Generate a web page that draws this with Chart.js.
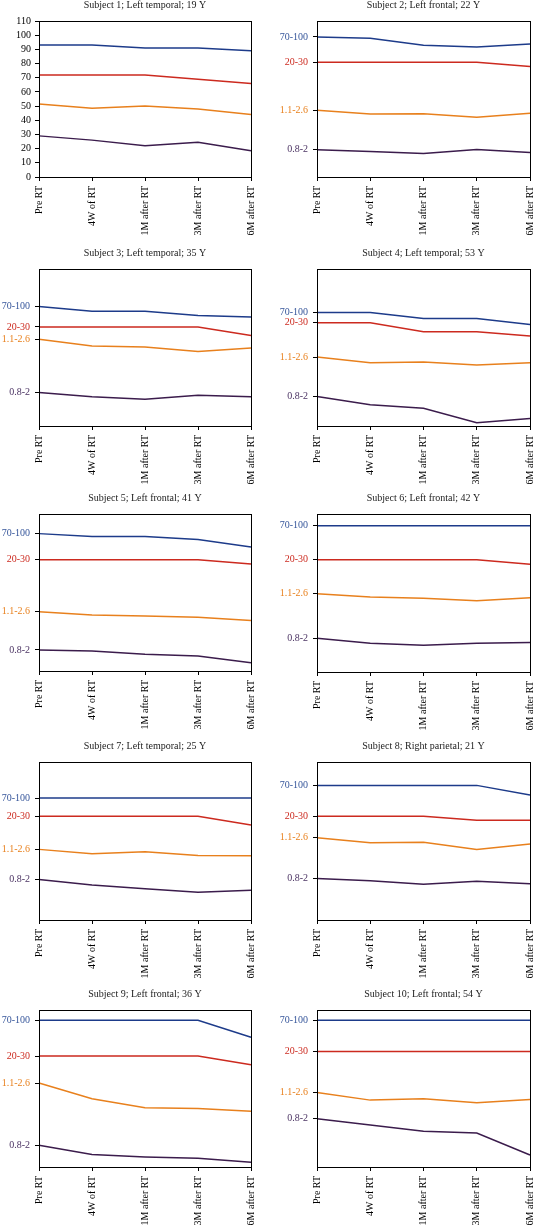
<!DOCTYPE html>
<html>
<head>
<meta charset="utf-8">
<script src="https://cdn.jsdelivr.net/npm/chart.js@4.4.1/dist/chart.umd.min.js"></script>
<style>
  html, body { margin: 0; padding: 0; background: #fff; overflow: hidden; }
  body { width: 536px; height: 1228px; position: relative; }
  canvas { position: absolute; }
</style>
</head>
<body>
<script>
// data
const timepoints = ['Pre RT', '4W of RT', '1M after RT', '3M after RT', '6M after RT']
const subjects = [
  'Subject 1; Left temporal; 19 Y', 'Subject 2; Left frontal; 22 Y',
  'Subject 3; Left temporal; 35 Y', 'Subject 4; Left temporal; 53 Y',
  'Subject 5; Left frontal; 41 Y', 'Subject 6; Left frontal; 42 Y',
  'Subject 7; Left temporal; 25 Y', 'Subject 8; Right parietal; 21 Y',
  'Subject 9; Left frontal; 36 Y', 'Subject 10; Left frontal; 54 Y',
]
const rangeLabels = ['70-100', '20-30', '1.1-2.6', '0.8-2']
// where each normal range label sits on the subject's axis (subject 1 has a numeric axis)
const rangeLevels = [
  null,
  [89.8, 73.6, 42.8, 17.4],
  [76.1, 63.1, 55.2, 21.3],
  [72.3, 65.7, 43.9, 18.8],
  [87.5, 70.9, 37.8, 13.4],
  [92.6, 71.0, 49.6, 21.4],
  [77.2, 65.6, 44.7, 25.7],
  [85.2, 65.6, 52.1, 26.2],
  [93.4, 70.7, 53.5, 13.8],
  [93.4, 73.5, 47.5, 30.7],
]
const blueLine = [
  [93, 93, 91, 91, 89],
  [89.8, 89.0, 84.5, 83.4, 85.3],
  [76.1, 73.1, 73.1, 70.4, 69.5],
  [72.3, 72.3, 68.4, 68.4, 64.6],
  [87.5, 85.6, 85.6, 83.7, 79.0],
  [92.6, 92.6, 92.6, 92.6, 92.6],
  [77.2, 77.2, 77.2, 77.2, 77.2],
  [85.2, 85.2, 85.2, 85.2, 79.1],
  [93.4, 93.4, 93.4, 93.4, 82.6],
  [93.4, 93.4, 93.4, 93.4, 93.4],
]
const redLine = [
  [72, 72, 72, 69, 66],
  [73.6, 73.6, 73.6, 73.6, 70.8],
  [63.1, 63.1, 63.1, 63.1, 57.6],
  [65.7, 65.7, 60.1, 60.1, 57.4],
  [70.9, 70.9, 70.9, 70.9, 68.2],
  [71.0, 71.0, 71.0, 71.0, 68.2],
  [65.6, 65.6, 65.6, 65.6, 60.1],
  [65.6, 65.6, 65.6, 63.1, 63.1],
  [70.7, 70.7, 70.7, 70.7, 65.2],
  [73.5, 73.5, 73.5, 73.5, 73.5],
]
const orangeLine = [
  [51.5, 48.5, 50, 48, 44],
  [42.8, 40.4, 40.6, 38.3, 40.9],
  [55.2, 51.0, 50.3, 47.5, 49.7],
  [43.9, 40.3, 40.7, 38.8, 40.3],
  [37.8, 35.7, 35.0, 34.2, 32.1],
  [49.6, 47.5, 46.6, 45.1, 47.0],
  [44.7, 42.0, 43.2, 40.9, 40.7],
  [52.1, 48.9, 49.2, 44.7, 48.1],
  [53.5, 43.5, 37.8, 37.2, 35.5],
  [47.5, 42.6, 43.4, 40.9, 43.0],
]
const purpleLine = [
  [29, 26, 22, 24.5, 18.5],
  [17.4, 16.3, 15.1, 17.6, 15.7],
  [21.3, 18.6, 17.1, 19.6, 18.6],
  [18.8, 13.6, 11.3, 2.1, 4.7],
  [13.4, 12.7, 10.6, 9.6, 5.3],
  [21.4, 18.2, 16.9, 18.2, 18.6],
  [25.7, 22.2, 19.8, 17.5, 18.8],
  [26.2, 24.9, 22.6, 24.5, 23.0],
  [13.8, 7.9, 6.4, 5.5, 3.0],
  [30.7, 26.7, 22.7, 21.6, 7.6],
]

// styles
const lineColors = ['#1d3b8a', '#cc2a1f', '#e8801d', '#3b1c4c']
const labelColors = ['#35559a', '#cc2a1f', '#e8801d', '#4a3262']
const fontFamily = "'Liberation Serif', 'DejaVu Serif', serif"

// plot area of each panel: left, top, width, height
const plotBoxes = [
  [39, 21, 217, 156], [317, 21, 218, 156],
  [39, 269, 217, 157], [317, 269, 218, 157],
  [39, 514, 217, 157], [317, 514, 218, 158],
  [39, 762, 217, 158], [317, 762, 218, 158],
  [39, 1010, 217, 157], [317, 1010, 218, 157],
]
const axisW = 45
const titleH = 26
const xAxisH = 64
const padRight = 12

// draws the box around the plot area
const frame = {
  id: 'frame',
  afterDatasetsDraw(chart) {
    const { ctx, chartArea } = chart
    ctx.save()
    ctx.strokeStyle = '#000'
    ctx.lineWidth = 1
    ctx.strokeRect(Math.round(chartArea.left) + 0.5, Math.round(chartArea.top) + 0.5,
      Math.round(chartArea.right - chartArea.left), Math.round(chartArea.bottom - chartArea.top))
    ctx.restore()
  },
}

subjects.forEach((title, i) => printPanel(i, title))

function printPanel(i, title) {
  const [left, top, w, h] = plotBoxes[i]
  const canvas = document.createElement('canvas')
  canvas.width = axisW + w + padRight
  canvas.height = titleH + h + xAxisH
  canvas.style.left = (left - axisW) + 'px'
  canvas.style.top = (top - titleH) + 'px'
  document.body.appendChild(canvas)

  const levels = rangeLevels[i]
  const yScale = levels === null
    ? {
        min: 0, max: 110,
        ticks: { stepSize: 10, autoSkip: false, color: '#000', padding: 4, font: { family: fontFamily, size: 10 } },
      }
    : {
        min: 0, max: 100,
        afterBuildTicks: (scale) => {
          scale.ticks = levels.map((v) => ({ value: v }))
        },
        ticks: {
          padding: 5,
          autoSkip: false,
          color: (c) => labelColors[c.index],
          callback: (value, index) => rangeLabels[index],
          font: { family: fontFamily, size: 10 },
        },
      }

  new Chart(canvas, {
    type: 'line',
    data: {
      labels: timepoints,
      datasets: [blueLine, redLine, orangeLine, purpleLine].map((series, k) => ({
        data: series[i],
        borderColor: lineColors[k],
        borderWidth: 1.5,
        pointRadius: 0,
        tension: 0,
        fill: false,
      })),
    },
    options: {
      responsive: false,
      animation: false,
      layout: { padding: { left: 0, right: padRight, top: 0, bottom: 0 } },
      plugins: {
        legend: { display: false },
        tooltip: { enabled: false },
        title: {
          display: true,
          text: title,
          fullSize: false,
          color: '#222',
          padding: { top: 4, bottom: 10 },
          font: { family: fontFamily, size: 10, weight: 'normal', lineHeight: 1.2 },
        },
      },
      scales: {
        x: {
          offset: false,
          afterFit: (scale) => { scale.height = xAxisH },
          grid: { drawOnChartArea: false, drawTicks: true, tickLength: 4, color: '#000' },
          border: { color: '#000', width: 1 },
          ticks: {
            color: '#000',
            minRotation: 90,
            maxRotation: 90,
            autoSkip: false,
            padding: 5,
            font: { family: fontFamily, size: 10 },
          },
        },
        y: Object.assign(yScale, {
          afterFit: (scale) => { scale.width = axisW },
          grid: { drawOnChartArea: false, drawTicks: true, tickLength: 4, color: '#000' },
          border: { color: '#000', width: 1 },
        }),
      },
    },
    plugins: [frame],
  })
}
</script>
</body>
</html>
